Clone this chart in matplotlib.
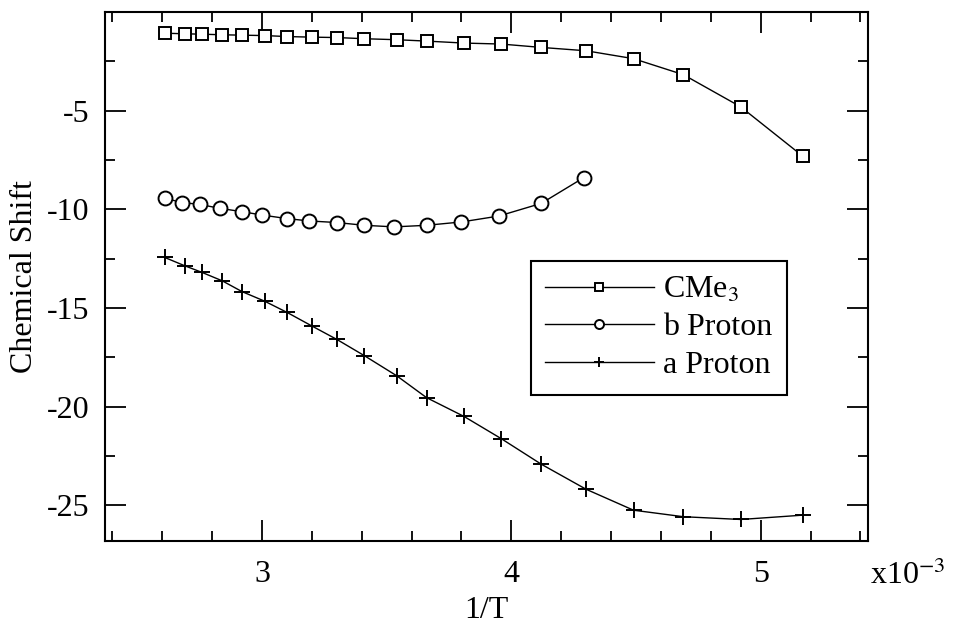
import matplotlib
matplotlib.use("Agg")
import matplotlib.pyplot as plt
from matplotlib.ticker import MultipleLocator

plt.rcParams['font.family'] = ['Liberation Serif', 'DejaVu Serif']
plt.rcParams['mathtext.fontset'] = 'stix'

# 1/T values (units of 1e-3)
inv_t = [2.61, 2.69, 2.76, 2.84, 2.92, 3.01, 3.10, 3.20, 3.30, 3.41,
         3.54, 3.66, 3.81, 3.96, 4.12, 4.30, 4.49, 4.69, 4.92, 5.17]
inv_t_b = [2.61, 2.68, 2.75, 2.83, 2.92, 3.00, 3.10, 3.19, 3.30, 3.41,
           3.53, 3.66, 3.80, 3.95, 4.12, 4.29]

cme3 = [-1.08, -1.11, -1.13, -1.16, -1.18, -1.20, -1.25, -1.28, -1.30, -1.36,
        -1.41, -1.48, -1.58, -1.63, -1.80, -1.97, -2.37, -3.18, -4.81, -7.32]
b_proton = [-9.44, -9.66, -9.75, -9.95, -10.12, -10.29, -10.47, -10.59, -10.67, -10.81,
            -10.89, -10.81, -10.64, -10.34, -9.70, -8.40]
a_proton = [-12.44, -12.86, -13.20, -13.62, -14.17, -14.65, -15.22, -15.91, -16.59, -17.41,
            -18.43, -19.54, -20.49, -21.62, -22.91, -24.18, -25.24, -25.57, -25.71, -25.49]

labels = ['CMe$_3$', 'b Proton', 'a Proton']
x_ticks = [3, 4, 5]
y_ticks = [-5, -10, -15, -20, -25]

FS = 23

fig = plt.figure(figsize=(9.56, 6.25), dpi=100)
ax = fig.add_axes([0.1098, 0.1344, 0.798, 0.8466])

lw = 1.0
ax.plot(inv_t, cme3, color='black', lw=lw, marker='s', ms=9, mfc='white', mec='black', mew=1.4, label=labels[0])
ax.plot(inv_t_b, b_proton, color='black', lw=lw, marker='o', ms=10, mfc='white', mec='black', mew=1.4, label=labels[1])
ax.plot(inv_t, a_proton, color='black', lw=lw, marker='+', ms=12, mec='black', mew=1.4, label=labels[2])

ax.set_xlim(2.37, 5.43)
ax.set_ylim(-26.8, 0)
ax.set_xticks(x_ticks)
ax.set_xticklabels([str(v) for v in x_ticks])
ax.set_yticks(y_ticks)
ax.set_yticklabels([str(v) for v in y_ticks])
ax.xaxis.set_minor_locator(MultipleLocator(0.2))
ax.yaxis.set_minor_locator(MultipleLocator(2.5))
ax.tick_params(which='both', direction='in', top=True, right=True, labelsize=FS, width=1.3)
ax.tick_params(axis='y', which='major', length=15, pad=11)
ax.tick_params(axis='x', which='major', length=15, pad=14)
ax.tick_params(which='minor', length=7)
for s in ax.spines.values():
    s.set_linewidth(1.5)

ax.set_xlabel('1/T', fontsize=FS, labelpad=5)
ax.set_ylabel('Chemical Shift', fontsize=FS, labelpad=6)
ax.text(1.003, -0.065, 'x10$^{-3}$', transform=ax.transAxes, fontsize=FS, ha='left', va='center')

leg = ax.legend(loc='upper left', bbox_to_anchor=(0.558, 0.529), fontsize=FS, frameon=True,
                fancybox=False, edgecolor='black', framealpha=1, handlelength=3.4,
                markerscale=0.65, borderpad=0.45, labelspacing=0.26, handletextpad=0.3,
                borderaxespad=0)
leg.get_frame().set_linewidth(1.5)

fig.savefig('out.png', dpi=100)
